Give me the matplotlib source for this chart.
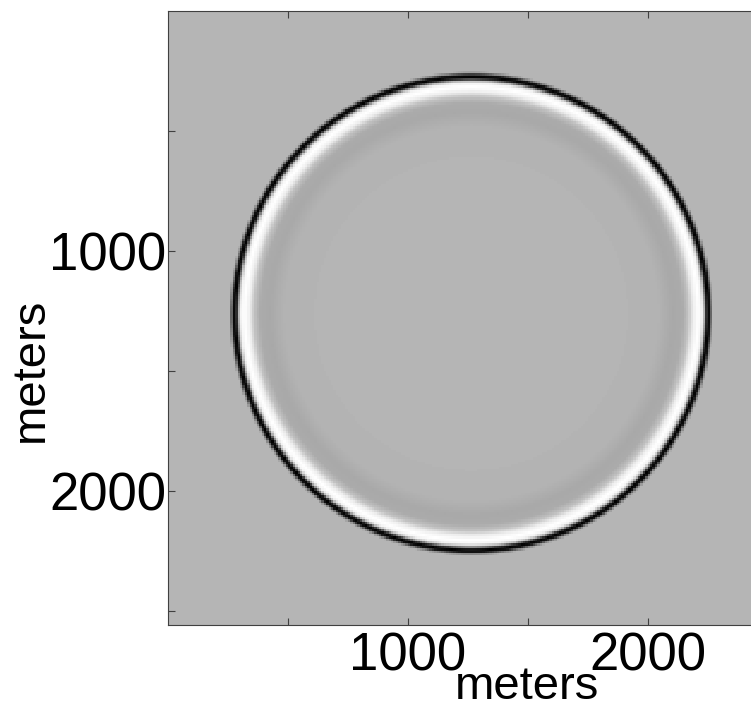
import numpy as np
import matplotlib.pyplot as plt

plt.rcParams['font.family'] = ['Liberation Sans', 'DejaVu Sans']

# model grid (meters)
grid_step = 10.0
grid_size = 2560.0
source_x = 1265.0
source_y = 1262.0

# radial snapshot of the wavefront: distance from source (m) and gray level
profile_radius = [0, 600, 780, 840, 880, 905, 925, 945, 960, 970, 978, 986, 994, 1002, 1010, 4000]
profile_gray = [0.71, 0.71, 0.70, 0.66, 0.67, 0.76, 0.93, 1.0, 0.95, 0.72, 0.25, 0.0, 0.08, 0.5, 0.71, 0.71]

tick_pos = [500, 1000, 1500, 2000, 2500]
tick_text = ['', '1000', '', '2000', '']

# build the snapshot on cell centres
cells = np.arange(grid_step / 2, grid_size, grid_step)
gx, gy = np.meshgrid(cells, cells)
dist = np.hypot(gx - source_x, gy - source_y)
snap = np.interp(dist, profile_radius, profile_gray)

fig = plt.figure(figsize=(7.51, 7.07), dpi=100)
ax = fig.add_axes([168 / 751, (707 - 625) / 707, 614 / 751, 614 / 707])
ax.imshow(snap, cmap='gray', vmin=0, vmax=1, interpolation='nearest',
          extent=[0, grid_size, grid_size, 0], aspect='auto')
ax.set_xlim(0, grid_size)
ax.set_ylim(grid_size, 0)

ax.set_xticks(tick_pos)
ax.set_xticklabels(tick_text)
ax.set_yticks(tick_pos)
ax.set_yticklabels(tick_text)
ax.tick_params(axis='both', direction='in', length=5, width=0.8, color='#404040',
               top=True, right=True, labelsize=38, labelcolor='black')
ax.tick_params(axis='x', pad=5)
ax.tick_params(axis='y', pad=1.5)
for sp in ax.spines.values():
    sp.set_color('#404040')
    sp.set_linewidth(0.8)

ax.set_xlabel('meters', fontsize=34, va='baseline')
ax.xaxis.set_label_coords((527 - 168) / 614, (625 - 699) / 614)
ax.set_ylabel('meters', fontsize=34, va='baseline', ha='center', rotation_mode='anchor')
ax.yaxis.set_label_coords((43 - 168) / 614, (625 - 370) / 614)

fig.savefig('out.png', dpi=100)
